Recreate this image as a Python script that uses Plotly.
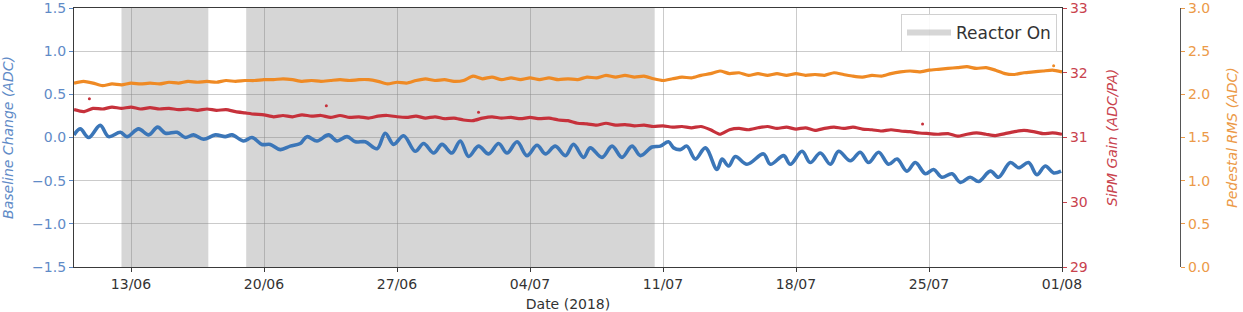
import pandas as pd
import plotly.graph_objects as go

START = pd.Timestamp("2018-06-10")
X_RANGE = ["2018-06-10", "2018-08-01"]
X_TICK0 = "2018-06-13"

# Baseline change (ADC), left axis
BLUE_DAYS = [
    0.00, 0.33, 0.77, 1.38, 1.82, 2.44, 2.79, 3.40, 3.93, 4.40,
    4.81, 5.42, 5.86, 6.29, 6.82, 7.44, 7.96, 8.32, 8.93, 9.37,
    9.89, 10.33, 10.86, 11.38, 11.91, 12.26, 12.79, 13.40, 13.84, 14.37,
    14.81, 15.33, 15.95, 16.38, 16.82, 17.35, 17.96, 18.40, 18.93, 19.37,
    19.89, 20.33, 20.77, 21.29, 21.82, 22.35, 22.79, 23.32, 23.84, 24.37,
    24.81, 25.33, 25.86, 26.29, 26.82, 27.17, 27.79, 28.32, 28.84, 29.37,
    29.81, 30.42, 30.86, 31.29, 31.56, 31.91, 32.26, 32.70, 33.23, 33.84,
    34.11, 34.45, 34.81, 35.42, 36.29, 36.65, 37.35, 37.70, 38.32, 38.75,
    39.28, 39.81, 40.24, 40.86, 41.38, 41.82, 42.35, 42.87, 43.32, 43.84,
    44.28, 44.81, 45.24, 45.68, 46.21, 46.65, 47.17, 47.61, 48.23, 48.66,
    49.28, 49.72, 50.24, 50.68, 51.12, 51.56, 51.95,
]
BLUE_VALUES = [
    0.03, 0.10, 0.00, 0.14, 0.01, 0.06, 0.01, 0.10, 0.03, 0.12,
    0.05, 0.06, 0.00, 0.03, -0.02, 0.03, 0.01, 0.03, -0.04, 0.00,
    -0.08, -0.08, -0.14, -0.10, -0.07, 0.01, -0.04, 0.03, -0.04, 0.01,
    -0.05, -0.05, -0.13, 0.05, -0.08, 0.02, -0.16, -0.07, -0.18, -0.08,
    -0.18, -0.04, -0.22, -0.10, -0.19, -0.07, -0.18, -0.05, -0.21, -0.09,
    -0.19, -0.10, -0.21, -0.08, -0.23, -0.12, -0.23, -0.10, -0.23, -0.10,
    -0.21, -0.11, -0.10, -0.05, -0.12, -0.14, -0.10, -0.25, -0.12, -0.37,
    -0.25, -0.33, -0.22, -0.31, -0.19, -0.31, -0.21, -0.31, -0.16, -0.29,
    -0.18, -0.31, -0.16, -0.27, -0.17, -0.29, -0.17, -0.31, -0.25, -0.39,
    -0.29, -0.42, -0.37, -0.46, -0.42, -0.52, -0.46, -0.51, -0.39, -0.46,
    -0.29, -0.35, -0.29, -0.43, -0.33, -0.41, -0.39,
]

# SiPM gain (ADC/PA) and pedestal RMS (ADC), sampled every half day
GRID_DAYS = [i * 0.5 for i in range(105)]
RED_VALUES = [
    31.43, 31.40, 31.45, 31.44, 31.47, 31.45, 31.47, 31.44, 31.46, 31.44,
    31.45, 31.43, 31.44, 31.42, 31.44, 31.42, 31.43, 31.40, 31.38, 31.36,
    31.35, 31.32, 31.34, 31.32, 31.35, 31.33, 31.34, 31.31, 31.34, 31.31,
    31.32, 31.30, 31.33, 31.34, 31.32, 31.31, 31.33, 31.30, 31.32, 31.29,
    31.30, 31.27, 31.26, 31.30, 31.32, 31.30, 31.31, 31.29, 31.31, 31.29,
    31.30, 31.27, 31.26, 31.22, 31.21, 31.19, 31.22, 31.19, 31.20, 31.18,
    31.19, 31.17, 31.18, 31.16, 31.17, 31.15, 31.17, 31.12, 31.05, 31.12,
    31.14, 31.12, 31.15, 31.17, 31.14, 31.16, 31.13, 31.15, 31.11, 31.14,
    31.16, 31.14, 31.16, 31.13, 31.12, 31.10, 31.12, 31.10, 31.09, 31.07,
    31.06, 31.05, 31.06, 31.02, 31.05, 31.07, 31.05, 31.03, 31.06, 31.09,
    31.11, 31.09, 31.06, 31.07, 31.05,
]
ORANGE_VALUES = [
    2.13, 2.15, 2.13, 2.10, 2.12, 2.11, 2.13, 2.12, 2.13, 2.12,
    2.14, 2.13, 2.15, 2.14, 2.15, 2.14, 2.16, 2.15, 2.16, 2.16,
    2.17, 2.17, 2.18, 2.17, 2.15, 2.16, 2.15, 2.16, 2.17, 2.16,
    2.17, 2.17, 2.15, 2.12, 2.14, 2.13, 2.16, 2.18, 2.16, 2.17,
    2.15, 2.16, 2.21, 2.18, 2.20, 2.17, 2.19, 2.17, 2.19, 2.17,
    2.19, 2.17, 2.18, 2.17, 2.20, 2.19, 2.22, 2.20, 2.22, 2.20,
    2.21, 2.18, 2.16, 2.18, 2.20, 2.19, 2.22, 2.24, 2.27, 2.24,
    2.25, 2.22, 2.24, 2.22, 2.24, 2.22, 2.24, 2.22, 2.23, 2.22,
    2.25, 2.23, 2.21, 2.20, 2.22, 2.21, 2.24, 2.26, 2.27, 2.26,
    2.28, 2.29, 2.30, 2.31, 2.32, 2.30, 2.31, 2.28, 2.24, 2.23,
    2.25, 2.26, 2.27, 2.28, 2.26,
]
RED_OUT_DAYS = [0.81, 13.28, 21.29, 44.66]
RED_OUT_VALUES = [31.60, 31.49, 31.39, 31.21]
ORANGE_OUT_DAYS = [51.56]
ORANGE_OUT_VALUES = [2.33]

# Reactor-on periods
REACTOR_START = ["2018-06-12 12:00", "2018-06-19 01:30"]
REACTOR_END = ["2018-06-17 01:40", "2018-07-10 13:30"]

LEFT_RANGE = [-1.5, 1.5]
GAIN_RANGE = [29, 33]
RMS_RANGE = [0, 3]

assert len(BLUE_DAYS) == len(BLUE_VALUES)
assert len(GRID_DAYS) == len(RED_VALUES) == len(ORANGE_VALUES)


def to_dates(days):
    return START + pd.to_timedelta(days, unit="D")


C_BLUE = "#3b76b8"
C_RED = "#c6313b"
C_ORANGE = "#ef8a24"
L_BLUE = "#5f8bc7"
L_RED = "#c9434e"
L_ORANGE = "#ec9a48"
FONT = "DejaVu Sans"

fig = go.Figure()

# shaded reactor-on periods
sx, sy = [], []
for s, e in zip(REACTOR_START, REACTOR_END):
    sx += [s, e, e, s, s, None]
    sy += [LEFT_RANGE[0], LEFT_RANGE[0], LEFT_RANGE[1], LEFT_RANGE[1], LEFT_RANGE[0], None]
fig.add_trace(go.Scatter(
    x=sx, y=sy, mode="none", fill="toself",
    fillcolor="rgba(128,128,128,0.32)", name="Reactor On",
    showlegend=True, hoverinfo="skip",
))

fig.add_trace(go.Scatter(
    x=to_dates(GRID_DAYS), y=ORANGE_VALUES, yaxis="y3", mode="lines",
    line=dict(color=C_ORANGE, width=3.2, shape="spline", smoothing=0.6),
    showlegend=False,
))
fig.add_trace(go.Scatter(
    x=to_dates(ORANGE_OUT_DAYS), y=ORANGE_OUT_VALUES, yaxis="y3", mode="markers",
    marker=dict(color=C_ORANGE, size=3), showlegend=False,
))
fig.add_trace(go.Scatter(
    x=to_dates(GRID_DAYS), y=RED_VALUES, yaxis="y2", mode="lines",
    line=dict(color=C_RED, width=3.2, shape="spline", smoothing=0.6),
    showlegend=False,
))
fig.add_trace(go.Scatter(
    x=to_dates(RED_OUT_DAYS), y=RED_OUT_VALUES, yaxis="y2", mode="markers",
    marker=dict(color=C_RED, size=3), showlegend=False,
))
fig.add_trace(go.Scatter(
    x=to_dates(BLUE_DAYS), y=BLUE_VALUES, yaxis="y", mode="lines",
    line=dict(color=C_BLUE, width=3.6, shape="spline", smoothing=1.0),
    showlegend=False,
))

W, H = 1243, 312
ML, MR, MT, MB = 74, 0, 8, 45
plot_right_px = 1062
ped_axis_px = 1180
pw = W - ML - MR
ph = H - MT - MB
dom_right = (plot_right_px - ML) / pw
ped_pos = (ped_axis_px - ML) / pw

GRID = "rgba(140,140,140,0.45)"
SPINE = "#3a3a3a"

fig.update_layout(
    width=W, height=H,
    margin=dict(l=ML, r=MR, t=MT, b=MB, autoexpand=False),
    paper_bgcolor="white", plot_bgcolor="white",
    font=dict(family=FONT, size=14, color="#333333"),
    xaxis=dict(
        domain=[0, dom_right], type="date", range=X_RANGE, automargin=False,
        tick0=X_TICK0, dtick=7 * 86400000, tickformat="%d/%m",
        showgrid=True, gridcolor=GRID, gridwidth=1,
        showline=True, linecolor=SPINE, linewidth=1.2, mirror=True,
        ticks="outside", ticklen=4, tickcolor=SPINE,
        ticklabeloverflow="allow",
        tickfont=dict(size=14, color="#333333"),
        title=dict(text="Date (2018)", standoff=12, font=dict(size=14, color="#333333")),
        zeroline=False,
    ),
    yaxis=dict(
        range=LEFT_RANGE, dtick=0.5, tickformat=".1f", automargin=False,
        showgrid=True, gridcolor=GRID, gridwidth=1, zeroline=False,
        showline=True, linecolor=SPINE, linewidth=1.2,
        ticks="outside", ticklen=4, tickcolor=L_BLUE,
        ticklabeloverflow="allow",
        tickfont=dict(size=14, color=L_BLUE),
        title=dict(text="<i>Baseline Change (ADC)</i>", standoff=18,
                   font=dict(size=14, color=L_BLUE)),
    ),
    yaxis2=dict(
        overlaying="y", side="right", anchor="x", automargin=False,
        range=GAIN_RANGE, dtick=1, tickformat="d",
        showgrid=False, zeroline=False,
        showline=True, linecolor=SPINE, linewidth=1.2,
        ticks="outside", ticklen=4, tickcolor=L_RED,
        ticklabeloverflow="allow",
        tickfont=dict(size=14, color=L_RED),
        title=dict(text="<i>SiPM Gain (ADC/PA)</i>", standoff=20,
                   font=dict(size=14, color=L_RED)),
    ),
    yaxis3=dict(
        overlaying="y", side="right", anchor="free", position=ped_pos,
        automargin=False,
        range=RMS_RANGE, dtick=0.5, tickformat=".1f",
        showgrid=False, zeroline=False,
        showline=True, linecolor="#555555", linewidth=1.2,
        ticks="outside", ticklen=4, tickcolor=L_ORANGE,
        ticklabeloverflow="allow",
        tickfont=dict(size=14, color=L_ORANGE),
        title=dict(text="<i>Pedestal RMS (ADC)</i>", standoff=18,
                   font=dict(size=14, color=L_ORANGE)),
    ),
    legend=dict(
        x=(1057 - ML) / pw, xanchor="right",
        y=(267 - 14) / ph, yanchor="top",
        bgcolor="rgba(255,255,255,0.9)", bordercolor="#d0d0d0", borderwidth=1,
        font=dict(size=17, color="#333333"),
        itemwidth=44,
    ),
    showlegend=True,
)

fig.write_html("out.html")
